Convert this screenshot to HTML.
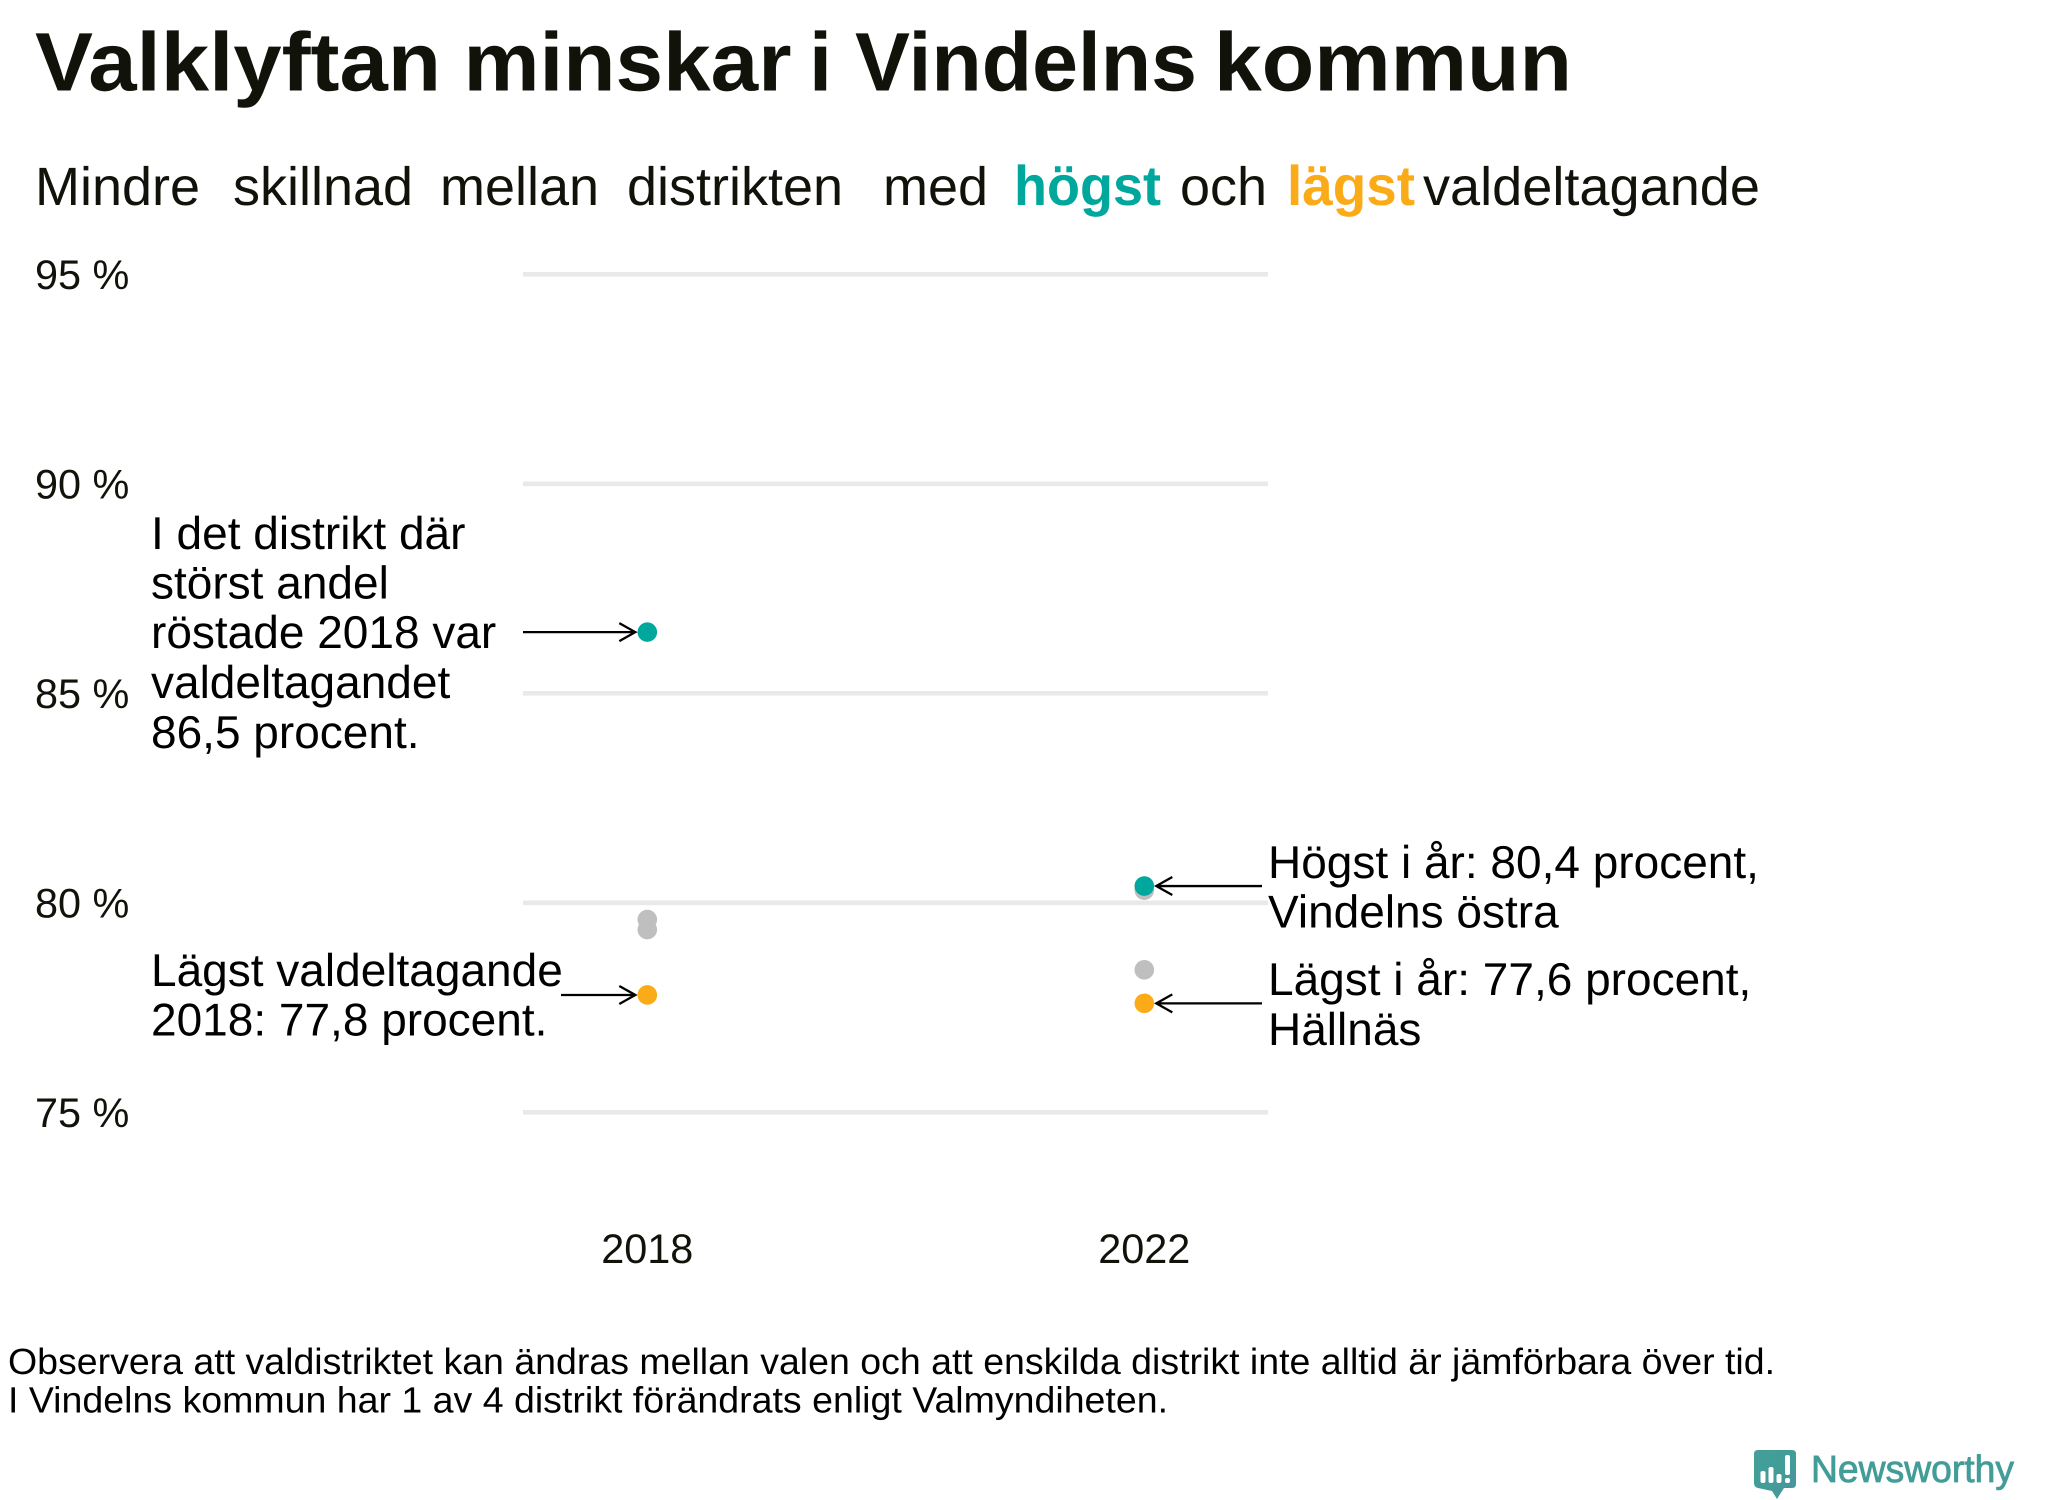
<!DOCTYPE html>
<html lang="sv">
<head>
<meta charset="utf-8">
<title>Valklyftan minskar i Vindelns kommun</title>
<style>
html,body{margin:0;padding:0;background:#fff;}
body{width:2048px;height:1500px;overflow:hidden;}
svg{display:block;}
text{font-family:"Liberation Sans",sans-serif;fill:#000;text-rendering:geometricPrecision;}
.ann{font-size:46px;}
.sub{font-size:54px;fill:#11120a;}
.subb{font-size:56px;font-weight:bold;}
.tick{font-size:41.4px;fill:#11120a;}
.foot{font-size:36.6px;}
.ttl{font-size:83px;font-weight:bold;fill:#11120a;}
</style>
</head>
<body>
<svg id="chart" xmlns="http://www.w3.org/2000/svg" width="2048" height="1500" viewBox="0 0 2048 1500">
  <rect x="0" y="0" width="2048" height="1500" fill="#ffffff"/>
  <g>
    <text class="ttl" x="35" y="90.7" textLength="406" lengthAdjust="spacingAndGlyphs">Valklyftan</text>
    <text class="ttl" x="463.5" y="90.7" textLength="328" lengthAdjust="spacingAndGlyphs">minskar</text>
    <text class="ttl" x="809" y="90.7">i</text>
    <text class="ttl" x="855" y="90.7" textLength="342" lengthAdjust="spacingAndGlyphs">Vindelns</text>
    <text class="ttl" x="1214" y="90.7" textLength="358" lengthAdjust="spacingAndGlyphs">kommun</text>
  </g>
  <g>
    <text class="sub" x="35" y="205">Mindre</text>
    <text class="sub" x="233" y="205">skillnad</text>
    <text class="sub" x="440" y="205">mellan</text>
    <text class="sub" x="627" y="205">distrikten</text>
    <text class="sub" x="883" y="205">med</text>
    <text class="subb" x="1014" y="205" style="fill:#00a79d" textLength="147" lengthAdjust="spacingAndGlyphs">högst</text>
    <text class="sub" x="1180" y="205">och</text>
    <text class="subb" x="1287" y="205" style="fill:#fbab18" textLength="128" lengthAdjust="spacingAndGlyphs">lägst</text>
    <text class="sub" x="1423" y="205" textLength="337" lengthAdjust="spacingAndGlyphs">valdeltagande</text>
  </g>
  <g id="grid"></g>
  <g id="yticks"></g>
  <g id="xticks"></g>
  <g id="others"></g>
  <g id="arrows"></g>
  <g id="extremes"></g>

  <text class="ann">
    <tspan x="151" y="549">I det distrikt där</tspan>
    <tspan x="151" y="598.5">störst andel</tspan>
    <tspan x="151" y="648">röstade 2018 var</tspan>
    <tspan x="151" y="698">valdeltagandet</tspan>
    <tspan x="151" y="748">86,5 procent.</tspan>
  </text>
  <text class="ann">
    <tspan x="151" y="986">Lägst valdeltagande</tspan>
    <tspan x="151" y="1035.7">2018: 77,8 procent.</tspan>
  </text>
  <text class="ann">
    <tspan x="1268" y="878">Högst i år: 80,4 procent,</tspan>
    <tspan x="1268" y="927.5">Vindelns östra</tspan>
  </text>
  <text class="ann">
    <tspan x="1268" y="995">Lägst i år: 77,6 procent,</tspan>
    <tspan x="1268" y="1045">Hällnäs</tspan>
  </text>

  <text class="foot" x="8" y="1374" textLength="1767" lengthAdjust="spacingAndGlyphs">Observera att valdistriktet kan ändras mellan valen och att enskilda distrikt inte alltid är jämförbara över tid.</text>
  <text class="foot" x="8" y="1412.7" textLength="1160" lengthAdjust="spacingAndGlyphs">I Vindelns kommun har 1 av 4 distrikt förändrats enligt Valmyndiheten.</text>

  <g>
    <defs>
      <linearGradient id="logoGrad" x1="0" y1="0" x2="1" y2="1">
        <stop offset="0" stop-color="#439f98"/>
        <stop offset="0.6" stop-color="#429c98"/>
        <stop offset="1" stop-color="#4f8fa0"/>
      </linearGradient>
    </defs>
    <path d="M1758,1450 H1792 Q1796,1450 1796,1454 V1484 Q1796,1488 1792,1488 H1784 L1777,1499 L1772,1491 L1758,1488 Q1754,1487 1754,1483 V1454 Q1754,1450 1758,1450 Z" fill="url(#logoGrad)"/>
    <g fill="#ffffff">
      <rect x="1760.5" y="1471" width="5" height="12" rx="2"/>
      <rect x="1768.5" y="1467" width="5" height="16" rx="2"/>
      <rect x="1776.5" y="1474" width="5" height="9" rx="2"/>
      <rect x="1785" y="1455" width="5" height="20" rx="2"/>
      <rect x="1785" y="1478" width="5" height="5" rx="2"/>
    </g>
    <text x="1811" y="1482" font-size="38" style="fill:#429c98;stroke:#429c98;stroke-width:0.8" textLength="203" lengthAdjust="spacingAndGlyphs">Newsworthy</text>
  </g>
</svg>
<script>
// Chart data
const categories = ["2018", "2022"];
const yTickValues = [75, 80, 85, 90, 95];
const yTickLabels = ["75 %", "80 %", "85 %", "90 %", "95 %"];
const highestValues = [86.46, 80.4];
const lowestValues = [77.8, 77.6];
const otherValues2018 = [79.6, 79.36];
const otherValues2022 = [80.3, 78.4];

// Axis functions
function yScale(v) { return 1112.3 - (v - 75) * 41.9; }
function xScale(i) { return 647.3 + i * 497; }

const NS = "http://www.w3.org/2000/svg";
const gridG = document.getElementById("grid");
const yG = document.getElementById("yticks");
const xG = document.getElementById("xticks");
const othersG = document.getElementById("others");
const arrowsG = document.getElementById("arrows");
const extremesG = document.getElementById("extremes");
const GRID_X0 = 523, GRID_X1 = 1268, R = 9.8;

yTickValues.forEach(function (v, i) {
  const line = document.createElementNS(NS, "line");
  
  
  line.setAttribute("x1", GRID_X0);
  line.setAttribute("x2", GRID_X1);
  line.setAttribute("y1", yScale(v));
  line.setAttribute("y2", yScale(v));
  line.setAttribute("stroke", "#e9e9ec");
  line.setAttribute("stroke-width", "4.6");
  gridG.appendChild(line);

  const t = document.createElementNS(NS, "text");
  
  
  t.setAttribute("class", "tick");
  t.setAttribute("x", 35);
  t.setAttribute("y", yScale(v) + 14.5);
  t.textContent = yTickLabels[i];
  yG.appendChild(t);
});

categories.forEach(function (c, i) {
  const t = document.createElementNS(NS, "text");
  
  
  t.setAttribute("class", "tick");
  t.setAttribute("x", xScale(i));
  t.setAttribute("y", 1263);
  t.setAttribute("text-anchor", "middle");
  t.textContent = c;
  xG.appendChild(t);
});

function addDot(parent, i, v, color) {
  const d = document.createElementNS(NS, "ellipse");
  
  
  d.setAttribute("cx", xScale(i));
  d.setAttribute("cy", yScale(v));
  d.setAttribute("rx", R);
  d.setAttribute("ry", R);
  d.setAttribute("fill", color);
  parent.appendChild(d);
}

otherValues2018.forEach(function (v) { addDot(othersG, 0, v, "#bfbfbf"); });
otherValues2022.forEach(function (v) { addDot(othersG, 1, v, "#bfbfbf"); });
highestValues.forEach(function (v, i) { addDot(extremesG, i, v, "#00a79d"); });
lowestValues.forEach(function (v, i) { addDot(extremesG, i, v, "#fbab18"); });

// Annotation arrows: start x is a layout constant, the tip follows the data point.
function addArrow(startX, i, v, dir) {
  const y = yScale(v);
  const tip = xScale(i) - dir * 12;
  const p = document.createElementNS(NS, "path");
  
  
  p.setAttribute("d", "M" + startX + "," + y + " L" + tip + "," + y +
    " M" + (tip - dir * 16) + "," + (y - 9) + " L" + tip + "," + y + " L" + (tip - dir * 16) + "," + (y + 9));
  p.setAttribute("fill", "none");
  p.setAttribute("stroke", "#000");
  p.setAttribute("stroke-width", "2.3");
  arrowsG.appendChild(p);
}
addArrow(523, 0, highestValues[0], 1);
addArrow(561, 0, lowestValues[0], 1);
addArrow(1262, 1, highestValues[1], -1);
addArrow(1262, 1, lowestValues[1], -1);
</script>
</body>
</html>
